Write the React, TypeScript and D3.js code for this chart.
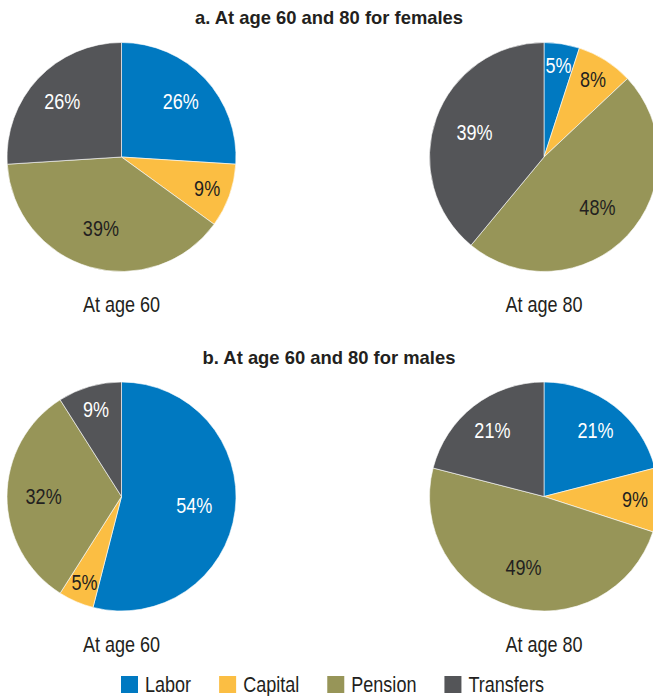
import React, { useEffect, useRef } from "react";
import * as d3 from "d3";

// Income source shares (%) by sex and age
const categories = ["Labor", "Capital", "Pension", "Transfers"];
const femaleAge60 = [26, 9, 39, 26];
const femaleAge80 = [5, 8, 48, 39];
const maleAge60 = [54, 5, 32, 9];
const maleAge80 = [21, 9, 49, 21];

const panelTitles = ["a. At age 60 and 80 for females", "b. At age 60 and 80 for males"];
const pieCaptions = ["At age 60", "At age 80"];

const colors = ["#0079C1", "#FBBE43", "#979558", "#545558"];
const labelColors = ["#ffffff", "#231F20", "#231F20", "#ffffff"];

const W = 653;
const H = 696;
const FONT = "'Liberation Sans', Arial, sans-serif";
// horizontal squeeze that gives Arial-metric text a narrow cut
const NARROW = 0.82;

export default function App() {
  const ref = useRef<SVGSVGElement | null>(null);

  useEffect(() => {
    const svg = d3.select(ref.current);
    svg.selectAll("*").remove();

    const radius = 114.5;
    const colX = [121.5, 544];
    const rowY = [157, 496.5];
    const titleY = [24, 364];
    const captionY = [312, 652];

    const rows = [
      [femaleAge60, femaleAge80],
      [maleAge60, maleAge80],
    ];

    const pie = d3.pie<number>().sort(null).value((d) => d);
    const arc = d3.arc<d3.PieArcDatum<number>>().innerRadius(0).outerRadius(radius);

    const narrowText = (
      parent: d3.Selection<any, any, any, any>,
      x: number,
      y: number,
      txt: string,
      anchor: string,
      fill: string
    ) =>
      parent
        .append("text")
        .attr("transform", `translate(${x},${y}) scale(${NARROW},1)`)
        .attr("text-anchor", anchor)
        .attr("font-family", FONT)
        .attr("font-size", 22)
        .attr("fill", fill)
        .text(txt);

    rows.forEach((row, ri) => {
      svg
        .append("text")
        .attr("x", 329)
        .attr("y", titleY[ri])
        .attr("text-anchor", "middle")
        .attr("font-family", FONT)
        .attr("font-weight", "bold")
        .attr("font-size", 18.4)
        .attr("fill", "#231F20")
        .text(panelTitles[ri]);

      row.forEach((values, ci) => {
        const g = svg
          .append("g")
          .attr("transform", `translate(${colX[ci]},${rowY[ri]})`);
        const arcs = pie(values);

        g.selectAll("path.slice")
          .data(arcs)
          .join("path")
          .attr("class", "slice")
          .attr("d", arc)
          .attr("fill", (_, i) => colors[i])
          .attr("stroke", "#ffffff")
          .attr("stroke-width", 0.6);

        arcs.forEach((d, i) => {
          const f = d.data / 100;
          const lr = radius * Math.max(0.64, 0.84 - 0.5 * f);
          const la = d3.arc<d3.PieArcDatum<number>>().innerRadius(lr).outerRadius(lr);
          const [x, y] = la.centroid(d);
          narrowText(g, x, y + 7.8, `${d.data}%`, "middle", labelColors[i]);
        });

        narrowText(svg, colX[ci], captionY[ri], pieCaptions[ci], "middle", "#231F20");
      });
    });

    // Legend along the bottom
    const legend = svg.append("g").attr("transform", "translate(121,0)");
    let x = 0;
    categories.forEach((name, i) => {
      legend
        .append("rect")
        .attr("x", x)
        .attr("y", 676)
        .attr("width", 17)
        .attr("height", 17)
        .attr("fill", colors[i]);
      const t = narrowText(legend, x + 24, 692, name, "start", "#231F20");
      const w = (t.node() as SVGTextElement).getComputedTextLength() * NARROW;
      x += 24 + w + 28;
    });
  }, []);

  return (
    <svg
      ref={ref}
      width={W}
      height={H}
      style={{ position: "absolute", left: 0, top: 0, background: "#ffffff" }}
    />
  );
}
